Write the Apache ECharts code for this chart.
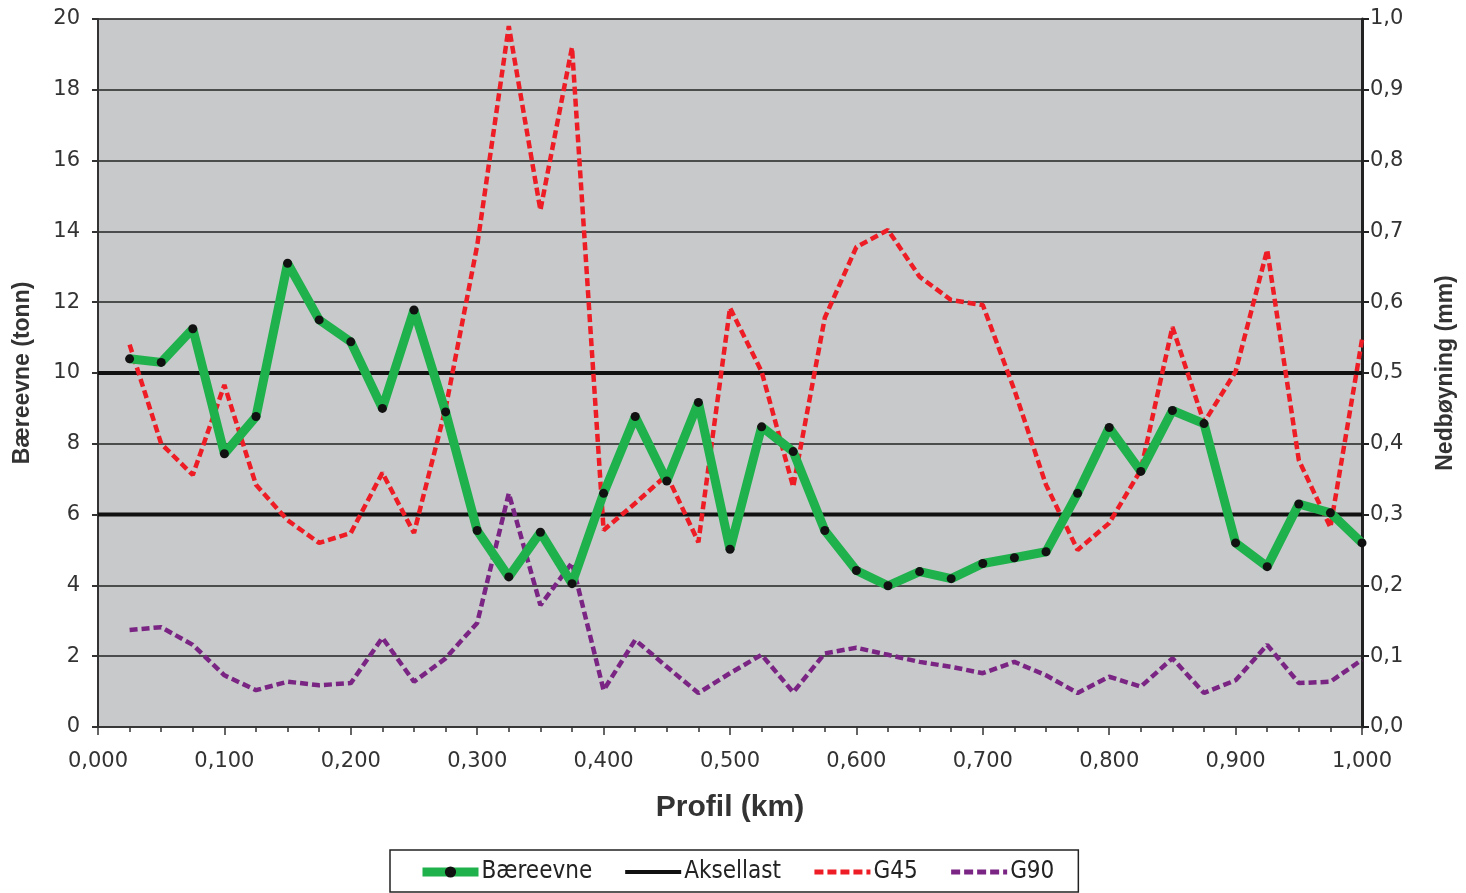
<!DOCTYPE html>
<html><head><meta charset="utf-8">
<script src="https://cdn.jsdelivr.net/npm/echarts@6/dist/echarts.min.js"></script>
<style>html,body{margin:0;padding:0;background:#fff}#c{width:1466px;height:893px}</style>
</head><body><div id="c"></div>
<script>
const profil = [0.025,0.05,0.075,0.1,0.125,0.15,0.175,0.2,0.225,0.25,0.275,0.3,0.325,0.35,0.375,0.4,0.425,0.45,0.475,0.5,0.525,0.55,0.575,0.6,0.625,0.65,0.675,0.7,0.725,0.75,0.775,0.8,0.825,0.85,0.875,0.9,0.925,0.95,0.975,1.0];
const baereevne = [10.4,10.3,11.25,7.72,8.77,13.1,11.5,10.88,9.0,11.78,8.9,5.55,4.24,5.5,4.05,6.6,8.77,6.95,9.17,5.02,8.48,7.78,5.55,4.42,3.99,4.39,4.19,4.62,4.78,4.95,6.6,8.46,7.22,8.94,8.57,5.2,4.53,6.3,6.05,5.2];
const g45 = [0.54,0.40,0.356,0.483,0.342,0.292,0.26,0.274,0.359,0.274,0.45,0.68,0.99,0.73,0.96,0.278,0.316,0.356,0.261,0.592,0.502,0.339,0.578,0.678,0.702,0.636,0.603,0.596,0.476,0.342,0.25,0.288,0.363,0.565,0.43,0.502,0.674,0.377,0.282,0.547];
const g90 = [0.137,0.141,0.116,0.073,0.052,0.064,0.059,0.062,0.126,0.064,0.097,0.147,0.33,0.172,0.232,0.052,0.123,0.085,0.048,0.076,0.102,0.049,0.104,0.112,0.102,0.092,0.085,0.076,0.092,0.073,0.048,0.071,0.057,0.097,0.048,0.066,0.116,0.062,0.064,0.095];
const aksellast = [10, 6];
const xRange = [0, 1];

const GREEN = '#1fb14c', RED = '#ee1c25', PURPLE = '#7a2483', BLACK = '#111';
const pair = (ys) => profil.map((x, i) => [x, ys[i]]);
const font = 'Liberation Sans, Arial, sans-serif';
const tickFont = 'DejaVu Sans, sans-serif';
const chart = echarts.init(document.getElementById('c'));
const series = [];
aksellast.forEach(v => series.push({
  name: 'Aksellast', type: 'line', yAxisIndex: 0, symbol: 'none',
  data: xRange.map(x => [x, v]), lineStyle: {color: BLACK, width: 4}, itemStyle: {color: BLACK}, z: 2
}));
series.push({
  name: 'G45', type: 'line', yAxisIndex: 1, symbol: 'none', data: pair(g45),
  lineStyle: {color: RED, width: 4.5, type: [8, 4]}, itemStyle: {color: RED}, z: 3
});
series.push({
  name: 'G90', type: 'line', yAxisIndex: 1, symbol: 'none', data: pair(g90),
  lineStyle: {color: PURPLE, width: 4.5, type: [8, 4]}, itemStyle: {color: PURPLE}, z: 3
});
series.push({
  name: 'Bæreevne', type: 'line', yAxisIndex: 0, symbol: 'circle', symbolSize: 9, showAllSymbol: true,
  data: pair(baereevne), lineStyle: {color: GREEN, width: 9}, itemStyle: {color: BLACK}, z: 4
});

const hidden = {color: 'rgba(0,0,0,0)', borderWidth: 0, opacity: 0};
chart.setOption({
  animation: false,
  textStyle: {fontFamily: font},
  grid: {left: 98, right: 104, top: 19, bottom: 166, show: true, backgroundColor: '#c8c9cb', borderColor: '#a0a0a0', borderWidth: 1},
  legend: {
    data: [
      {name: 'Bæreevne', itemStyle: {color: BLACK}, lineStyle: {color: GREEN, width: 9}},
      {name: 'Aksellast', itemStyle: hidden, lineStyle: {color: BLACK, width: 4}},
      {name: 'G45', itemStyle: hidden, lineStyle: {color: RED, width: 5, type: [9, 4]}},
      {name: 'G90', itemStyle: hidden, lineStyle: {color: PURPLE, width: 5, type: [9, 4]}}
    ],
    left: 390, top: 850, width: 720,
    padding: [10, 24, 8, 28], itemGap: 31, itemWidth: 56, itemHeight: 14,
    backgroundColor: '#fff', borderColor: '#222', borderWidth: 1.5, borderRadius: 0,
    textStyle: {fontFamily: 'DejaVu Sans Condensed, DejaVu Sans, sans-serif', fontSize: 24, color: '#222', padding: [0, 0, 0, -2]}
  },
  xAxis: {
    type: 'value', min: 0, max: 1, interval: 0.1,
    name: 'Profil (km)', nameLocation: 'middle', nameGap: 66,
    nameTextStyle: {fontFamily: font, fontSize: 30, fontWeight: 'bold', color: '#333'},
    axisLine: {lineStyle: {color: '#333', width: 1.5}},
    axisTick: {length: 8, lineStyle: {color: '#333', width: 1.5}},
    minorTick: {show: true, splitNumber: 4, length: 5, lineStyle: {color: '#333', width: 1.5}},
    splitLine: {show: false},
    axisLabel: {fontFamily: tickFont, fontSize: 21, color: '#333', margin: 24, formatter: v => v.toFixed(3).replace('.', ',')}
  },
  yAxis: [{
    type: 'value', min: 0, max: 20, interval: 2, position: 'left',
    name: 'Bæreevne (tonn)', nameLocation: 'middle', nameGap: 64, nameRotate: 90,
    nameTextStyle: {fontFamily: font, fontSize: 23, fontWeight: 'bold', color: '#333'},
    axisLine: {show: true, lineStyle: {color: '#333', width: 2}},
    axisTick: {show: true, length: 6, lineStyle: {color: '#333', width: 2}},
    splitLine: {lineStyle: {color: '#222', width: 1.5}},
    axisLabel: {fontFamily: tickFont, fontSize: 21, color: '#333', margin: 18}
  }, {
    type: 'value', min: 0, max: 1, interval: 0.1, position: 'right',
    name: 'Nedbøyning (mm)', nameLocation: 'middle', nameGap: 72, nameRotate: 90,
    nameTextStyle: {fontFamily: font, fontSize: 23, fontWeight: 'bold', color: '#333'},
    axisLine: {show: true, lineStyle: {color: '#222', width: 3}},
    axisTick: {show: true, length: 7, lineStyle: {color: '#222', width: 2}},
    splitLine: {show: false},
    axisLabel: {fontFamily: tickFont, fontSize: 21, color: '#333', margin: 8, formatter: v => v.toFixed(1).replace('.', ',')}
  }],
  series: series
});
</script></body></html>
